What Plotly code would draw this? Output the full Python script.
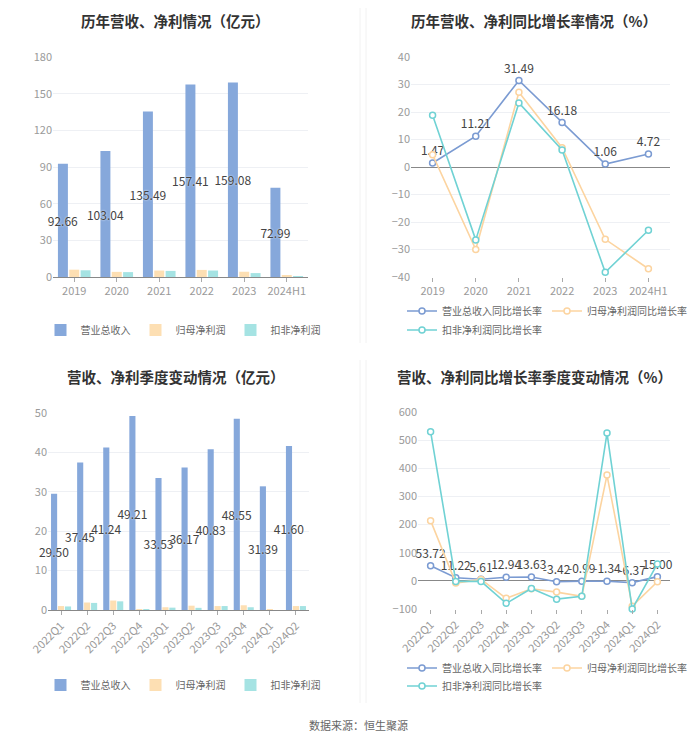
import plotly.graph_objects as go
from plotly.subplots import make_subplots

FONT = "Noto Sans CJK SC"

years = ["2019", "2020", "2021", "2022", "2023", "2024H1"]
revenue = [92.66, 103.04, 135.49, 157.41, 159.08, 72.99]
net_profit = [6.0, 4.2, 5.3, 5.8, 4.3, 1.1]
deducted_profit = [5.5, 4.0, 5.0, 5.3, 3.2, 0.6]

revenue_yoy = [1.47, 11.21, 31.49, 16.18, 1.06, 4.72]
net_profit_yoy = [4.5, -30.0, 27.2, 7.0, -26.3, -37.0]
deducted_yoy = [18.8, -26.5, 23.3, 6.2, -38.3, -23.0]

quarters = ["2022Q1", "2022Q2", "2022Q3", "2022Q4", "2023Q1",
            "2023Q2", "2023Q3", "2023Q4", "2024Q1", "2024Q2"]
q_revenue = [29.50, 37.45, 41.24, 49.21, 33.53, 36.17, 40.83, 48.55, 31.39, 41.60]
q_net_profit = [1.0, 1.9, 2.4, 0.25, 0.7, 1.1, 1.0, 1.2, 0.07, 1.0]
q_deducted = [0.9, 1.8, 2.2, 0.1, 0.6, 0.55, 1.0, 0.7, 0.0, 1.0]

q_revenue_yoy = [53.72, 11.22, 5.61, 12.94, 13.63, -3.42, -0.99, -1.34, -6.37, 15.00]
q_net_profit_yoy = [214, -8, 5, -62, -28, -40, -55, 376, -90, -3]
q_deducted_yoy = [530, -2, -2, -80, -27, -65, -55, 525, -100, 60]

names_bar = ["营业总收入", "归母净利润", "扣非净利润"]
names_line = ["营业总收入同比增长率", "归母净利润同比增长率", "扣非净利润同比增长率"]

BAR_COLORS = ["#86a8db", "#fddfb3", "#a5e3e3"]
LINE_COLORS = ["#7b9bd2", "#fcd4a0", "#70d2d4"]
GRID = "#eef0f4"
TICK = "#9a9a9a"
LABEL_FONT = dict(family=FONT, size=12, color="#444", shadow="0px 0px 2px #ffffff")

fig = make_subplots(rows=2, cols=2)


def add_bars(cats, series, row, col, legend):
    for i, (name, vals) in enumerate(zip(names_bar, series)):
        kw = {}
        if i == 0:
            kw = dict(
                text=[f"{v:.2f}" for v in vals],
                textposition="inside",
                insidetextanchor="middle",
                textangle=0,
                constraintext="none",
                textfont=LABEL_FONT,
            )
        fig.add_trace(go.Bar(x=cats, y=vals, name=name, marker_color=BAR_COLORS[i],
                             marker_line_width=0, legend=legend, cliponaxis=False, **kw),
                      row=row, col=col)


def add_lines(cats, series, row, col, legends):
    for i, (name, vals) in enumerate(zip(names_line, series)):
        if i == 0:
            kw = dict(mode="lines+markers+text",
                      text=[f"{v:.2f}" for v in vals],
                      textposition="top center",
                      textfont=LABEL_FONT)
        else:
            kw = dict(mode="lines+markers")
        fig.add_trace(go.Scatter(
            x=cats, y=vals, name=name, legend=legends[i],
            line=dict(color=LINE_COLORS[i], width=1.6),
            marker=dict(symbol="circle", size=6, color="#ffffff",
                        line=dict(color=LINE_COLORS[i], width=1.5)),
            cliponaxis=False, **kw), row=row, col=col)


add_bars(years, [revenue, net_profit, deducted_profit], 1, 1, "legend")
add_lines(years, [revenue_yoy, net_profit_yoy, deducted_yoy], 1, 2,
          ["legend2", "legend2", "legend3"])
add_bars(quarters, [q_revenue, q_net_profit, q_deducted], 2, 1, "legend4")
add_lines(quarters, [q_revenue_yoy, q_net_profit_yoy, q_deducted_yoy], 2, 2,
          ["legend5", "legend5", "legend6"])

W, H = 700, 734


def dx(a, b):
    return [a / W, b / W]


def dy(top, bottom):
    return [1 - bottom / H, 1 - top / H]


axis_font = dict(family=FONT, size=11, color=TICK)

fig.update_xaxes(type="category", tickfont=axis_font, showgrid=False,
                 showline=True, linecolor="#888", ticks="outside",
                 ticklen=4, tickcolor="#aaa", zeroline=False, automargin=False)
fig.update_yaxes(tickfont=axis_font, gridcolor=GRID, showline=False,
                 zeroline=True, zerolinecolor="#888", zerolinewidth=1,
                 automargin=False)

fig.update_xaxes(domain=dx(45, 300), range=[-0.5, 5.5], row=1, col=1)
fig.update_yaxes(domain=dy(49, 269), range=[0, 180], dtick=30, row=1, col=1)

fig.update_xaxes(domain=dx(403, 662), range=[-0.5, 5.5], showline=False, row=1, col=2)
fig.update_yaxes(domain=dy(49, 269), range=[-40, 40], dtick=10, row=1, col=2)

fig.update_xaxes(domain=dx(40, 301), range=[-0.5, 9.5], tickangle=-45, row=2, col=1)
fig.update_yaxes(domain=dy(405, 602), range=[0, 50], dtick=10, row=2, col=1)

fig.update_xaxes(domain=dx(410, 662), range=[-0.5, 9.5], tickangle=-45,
                 showline=False, row=2, col=2)
fig.update_yaxes(domain=dy(404, 601), range=[-100, 600], dtick=100, row=2, col=2)

legend_font = dict(family=FONT, size=10, color="#666")


def legend_at(x, y, xanchor="left"):
    return dict(orientation="h", x=x / W, xanchor=xanchor, y=1 - y / H,
                yanchor="middle", font=legend_font, bgcolor="rgba(0,0,0,0)",
                traceorder="normal")


fig.update_layout(
    legend=legend_at(175, 322, "center"),
    legend2=legend_at(394, 303),
    legend3=legend_at(394, 322),
    legend4=legend_at(175, 677, "center"),
    legend5=legend_at(394, 660),
    legend6=legend_at(394, 678),
)

titles = [
    ("历年营收、净利情况（亿元）", 167, 13),
    ("历年营收、净利同比增长率情况（%）", 526, 13),
    ("营收、净利季度变动情况（亿元）", 168, 368),
    ("营收、净利同比增长率季度变动情况（%）", 526, 368),
]
for text, x, y in titles:
    fig.add_annotation(text=f"<b>{text}</b>", x=x / W, y=1 - y / H, xref="paper",
                       yref="paper", xanchor="center", yanchor="middle",
                       showarrow=False, font=dict(family=FONT, size=14.5, color="#333"))

fig.add_annotation(text="数据来源：恒生聚源", x=0.5, y=1 - 717 / H, xref="paper",
                   yref="paper", xanchor="center", yanchor="middle", showarrow=False,
                   font=dict(family=FONT, size=11, color="#666"))

for x in (352, 358):
    for y0, y1 in ((0, 335), (352, 695)):
        fig.add_shape(type="line", xref="paper", yref="paper",
                      x0=x / W, x1=x / W, y0=1 - y0 / H, y1=1 - y1 / H,
                      line=dict(color="#f2f2f2", width=1))

fig.update_layout(
    width=W, height=H,
    margin=dict(l=0, r=0, t=0, b=0, autoexpand=False),
    paper_bgcolor="#ffffff",
    plot_bgcolor="#ffffff",
    barmode="group",
    bargap=0.2,
    bargroupgap=0.12,
    font=dict(family=FONT),
)

fig.write_html("out.html")
